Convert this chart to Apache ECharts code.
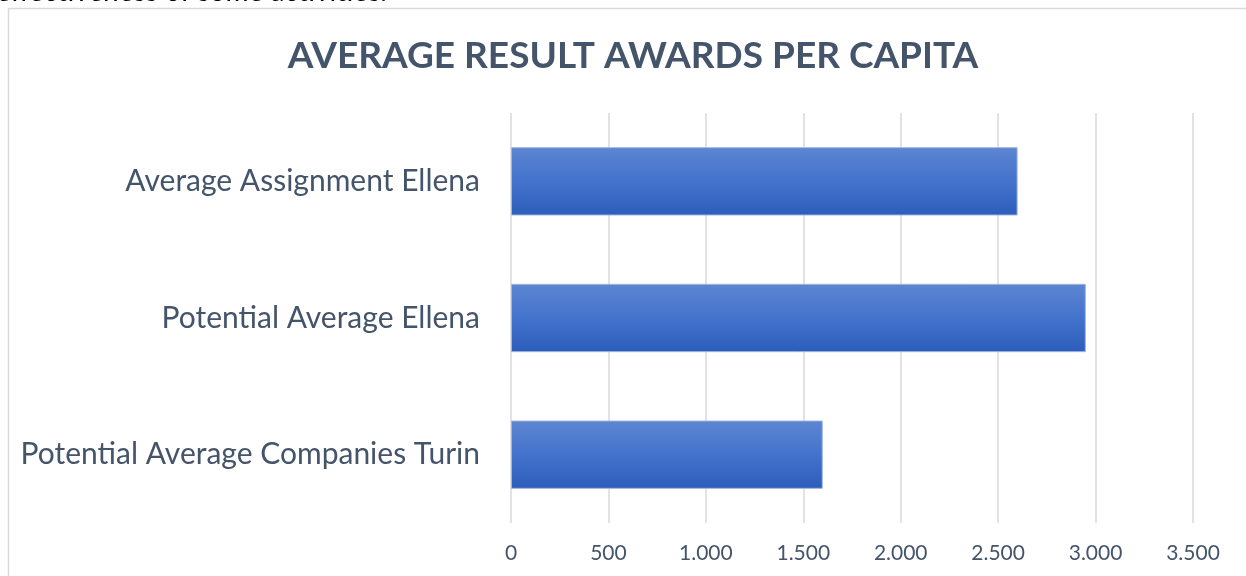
<!DOCTYPE html>
<html>
<head>
<meta charset="utf-8">
<script src="https://cdn.jsdelivr.net/npm/echarts@6/dist/echarts.min.js"></script>
<style>
html, body { margin: 0; padding: 0; background: #fff; }
#main { width: 1246px; height: 576px; }
</style>
</head>
<body>
<div id="main"></div>
<script>
// categories from bottom to top
var categories = ['Potential Average Companies Turin', 'Potential Average Ellena', 'Average Assignment Ellena'];
var values = [1600, 2950, 2600];
var tickLabels = ['0', '500', '1.000', '1.500', '2.000', '2.500', '3.000', '3.500'];

var myChart = echarts.init(document.getElementById('main'));
var option = {
    backgroundColor: '#fff',
    animation: false,
    title: {
        text: 'AVERAGE RESULT AWARDS PER CAPITA',
        left: 628,
        textAlign: 'center',
        top: 33,
        textStyle: {
            fontFamily: 'Lato',
            fontSize: 37,
            fontWeight: 'bold',
            color: '#44546A'
        }
    },
    graphic: [
        {
            type: 'rect',
            shape: { x: 8.5, y: 8.5, width: 1250, height: 580 },
            style: { fill: 'none', stroke: '#d9d9d9', lineWidth: 1.5 },
            silent: true
        },
        {
            type: 'text',
            left: -4,
            top: -22,
            style: {
                text: 'effectiveness of some activities.',
                font: '28px Lato',
                fill: '#000'
            },
            silent: true
        }
    ],
    grid: {
        left: 511,
        right: 53,
        top: 113,
        bottom: 53,
        containLabel: false
    },
    xAxis: {
        type: 'value',
        min: 0,
        max: 3500,
        interval: 500,
        axisLine: { show: false },
        axisTick: { show: false },
        splitLine: { lineStyle: { color: '#d9d9d9', width: 1.5 } },
        axisLabel: {
            margin: 20,
            fontFamily: 'Lato',
            fontSize: 21,
            color: '#44546A',
            formatter: function (v) { return tickLabels[v / 500]; }
        }
    },
    yAxis: {
        type: 'category',
        data: categories,
        axisLine: { show: false },
        axisTick: { show: false },
        axisLabel: {
            margin: 31,
            fontFamily: 'Lato',
            fontSize: 30,
            color: '#44546A'
        }
    },
    series: [{
        type: 'bar',
        data: values,
        barWidth: '50%',
        itemStyle: {
            color: new echarts.graphic.LinearGradient(0, 0, 0, 1, [
                { offset: 0, color: '#5d86d1' },
                { offset: 0.5, color: '#4473cd' },
                { offset: 1, color: '#2c5dba' }
            ]),
            borderColor: '#9fb6e3',
            borderWidth: 1
        }
    }]
};
myChart.setOption(option);
</script>
</body>
</html>
